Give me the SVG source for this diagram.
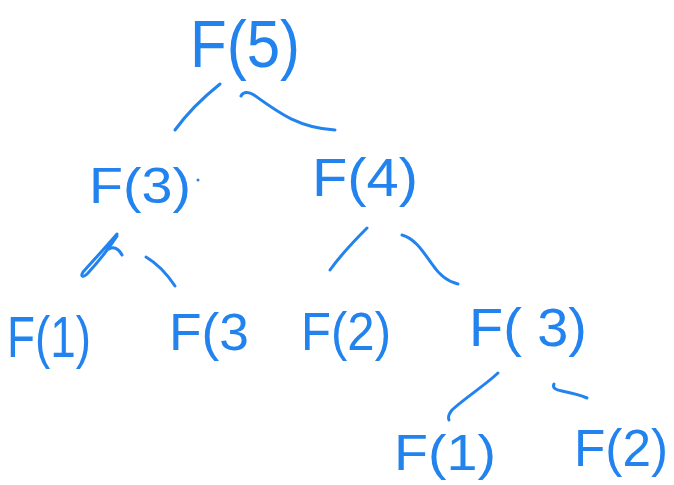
<svg xmlns="http://www.w3.org/2000/svg" width="674" height="485" viewBox="0 0 674 485">
  <style>
    .lbl { font-family: "Liberation Sans", Arial, sans-serif; fill: #2283ee; }
    .edge { fill: none; stroke: #2283ee; stroke-width: 3; stroke-linecap: round; stroke-linejoin: round; }
  </style>
  <rect width="674" height="485" fill="#ffffff"/>

  <!-- call tree of F(5) -->
  <g id="connectors">
    <path class="edge" d="M175,130 C188,112 205,96 220,84"/>
    <path class="edge" d="M241,96 C243,92 248,91 254,95 C280,114 300,128 335,130"/>
    <path class="edge" d="M117,234 C105,248 92,262 83,272 C80,277 83,278 88,273 C98,262 108,250 117,236"/>
    <path class="edge" d="M109,249 C114,246 119,249 122,255"/>
    <path class="edge" d="M146,257 C158,264 167,274 175,286"/>
    <path class="edge" d="M367,228 C354,241 340,256 330,270"/>
    <path class="edge" d="M402,235 C414,238 422,250 432,264 C440,276 449,282 458,284"/>
    <path class="edge" d="M498,373 C484,386 465,398 452,410 C448,415 448,418 449,420"/>
    <path class="edge" d="M554,384 C552,388 556,390 562,391 C572,393 580,395 587,398"/>
  </g>

  <g id="n-f5"><text class="lbl" x="190" y="67" font-size="66" textLength="110" lengthAdjust="spacingAndGlyphs">F(5)</text></g>
  <g id="n-f3a">
    <text class="lbl" x="89" y="203" font-size="50" textLength="102" lengthAdjust="spacingAndGlyphs">F(3)</text>
    <circle cx="198" cy="180" r="1.5" fill="#2283ee"/>
  </g>
  <g id="n-f4"><text class="lbl" x="312" y="196" font-size="54" textLength="106" lengthAdjust="spacingAndGlyphs">F(4)</text></g>
  <g id="n-f1a"><text class="lbl" x="7" y="357" font-size="58" textLength="84" lengthAdjust="spacingAndGlyphs">F(1)</text></g>
  <g id="n-f3b"><text class="lbl" x="169" y="350" font-size="52" textLength="80" lengthAdjust="spacingAndGlyphs">F(3</text></g>
  <g id="n-f2a"><text class="lbl" x="301" y="350" font-size="54" textLength="90" lengthAdjust="spacingAndGlyphs">F(2)</text></g>
  <g id="n-f3c"><text class="lbl" x="469" y="346" font-size="54" textLength="118" lengthAdjust="spacingAndGlyphs">F( 3)</text></g>
  <g id="n-f1b"><text class="lbl" x="394" y="470" font-size="50" textLength="102" lengthAdjust="spacingAndGlyphs">F(1)</text></g>
  <g id="n-f2b"><text class="lbl" x="574" y="466" font-size="52" textLength="94" lengthAdjust="spacingAndGlyphs">F(2)</text></g>
</svg>
